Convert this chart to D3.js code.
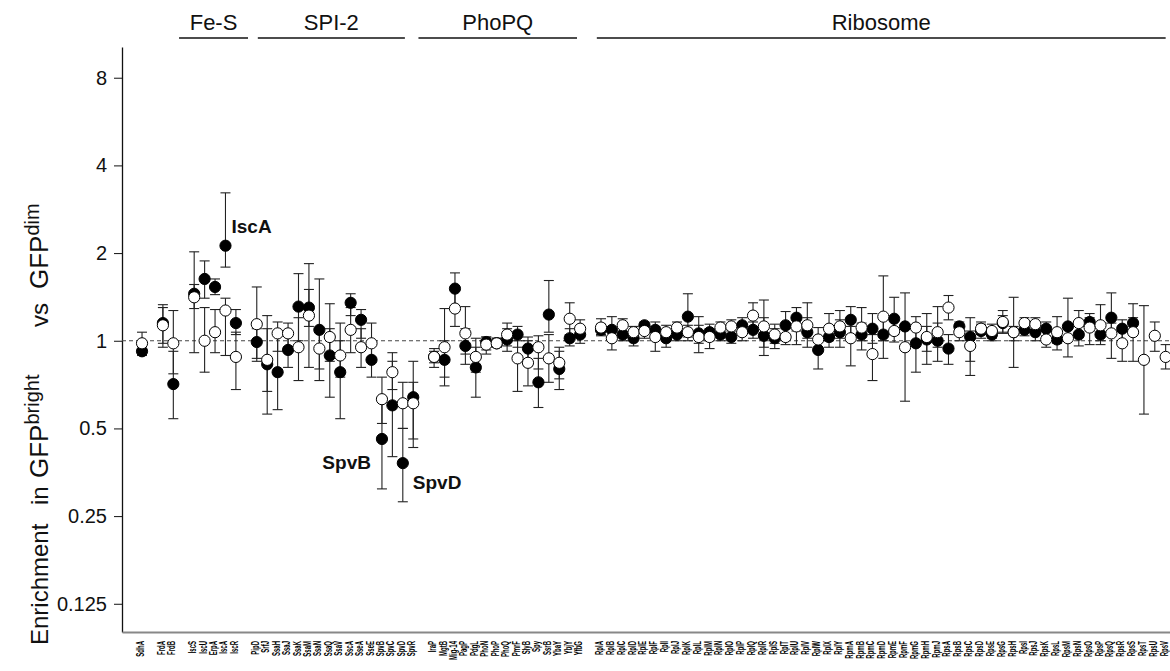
<!DOCTYPE html>
<html>
<head>
<meta charset="utf-8">
<script src="https://cdn.jsdelivr.net/npm/d3@7"></script>
<style>
  body { margin: 0; background: #fff; }
  svg { font-family: Arial, "Liberation Sans", sans-serif; }
</style>
</head>
<body>
<div id="chart"></div>
<script>
// gene blocks, left to right (one empty slot between blocks)
const sdhGenes = ['SdhA']
const frdGenes = ['FrdA', 'FrdB']
const feSGenes = ['IscS', 'IscU', 'ErpA', 'IscA', 'IscR']
const spi2Genes = ['PipD', 'SrfJ', 'SsaH', 'SsaJ', 'SsaK', 'SsaM', 'SsaN', 'SsaQ', 'SsaV', 'SscA', 'SseA', 'SseE', 'SpvB', 'SpvC', 'SpvD', 'SpvR']
const phoPQGenes = ['IraP', 'MgtB', 'Mig-14', 'PagP', 'PdgL', 'PhoN', 'PhoP', 'PhoQ', 'PmrF', 'SlyB', 'Spy', 'SsrB', 'YbaY', 'YbjY', 'YfbG']
const ribosomeGenes = ['RplA', 'RplB', 'RplC', 'RplD', 'RplE', 'RplF', 'RplI', 'RplJ', 'RplK', 'RplL', 'RplM', 'RplN', 'RplO', 'RplP', 'RplQ', 'RplR', 'RplS', 'RplT', 'RplU', 'RplV', 'RplW', 'RplX', 'RplY',
  'RpmA', 'RpmB', 'RpmC', 'RpmD', 'RpmE', 'RpmF', 'RpmG', 'RpmH', 'RpmJ',
  'RpsA', 'RpsB', 'RpsC', 'RpsD', 'RpsE', 'RpsG', 'RpsH', 'RpsI', 'RpsJ', 'RpsK', 'RpsL', 'RpsM', 'RpsN', 'RpsO', 'RpsP', 'RpsQ', 'RpsR', 'RpsS', 'RpsT', 'RpsU', 'RpsV']

// filled circles
const filledMean = [0.92, 1.15, 0.71,
  1.45, 1.63, 1.53, 2.12, 1.15,
  0.99, 0.83, 0.78, 0.93, 1.31, 1.30, 1.09, 0.89, 0.78, 1.35, 1.18, 0.86, 0.46, 0.60, 0.38, 0.64,
  0.88, 0.86, 1.51, 0.96, 0.81, 0.99, 0.98, 1.01, 1.05, 0.94, 0.72, 1.23, 0.80, 1.02, 1.05,
  1.09, 1.09, 1.05, 1.02, 1.13, 1.09, 1.02, 1.05, 1.21, 1.06, 1.07, 1.05, 1.03, 1.13, 1.09, 1.04, 1.02, 1.13, 1.20, 1.07, 0.93, 1.03, 1.07,
  1.18, 1.05, 1.10, 1.05, 1.19, 1.12, 0.98, 1.01, 1.00,
  0.94, 1.12, 1.03, 1.08, 1.05, 1.15, 1.07, 1.09, 1.07, 1.10, 1.01, 1.12, 1.05, 1.16, 1.05, 1.20, 1.10, 1.15, null, null, null]
const filledLow = [0.89, 0.98, 0.54,
  1.29, 1.40, 1.44, 1.79, 1.05,
  0.85, 0.56, 0.58, 0.81, 1.00, 1.12, 0.73, 0.64, 0.54, 1.22, 1.02, 0.75, 0.31, 0.40, 0.28, 0.46,
  0.84, 0.70, 1.30, 0.83, 0.64, 0.93, 0.95, 0.92, 0.95, 0.82, 0.59, 1.07, 0.68, 0.96, 0.98,
  1.04, 1.00, 1.00, 0.96, 1.08, 1.02, 0.95, 1.00, 1.03, 0.98, 1.00, 1.00, 0.98, 1.06, 1.02, 0.89, 0.94, 1.04, 1.08, 0.95, 0.80, 0.95, 0.95,
  1.05, 0.93, 0.98, 0.87, 1.05, 0.95, 0.78, 0.83, 0.85,
  0.83, 1.05, 0.76, 1.02, 1.00, 1.07, 1.00, 1.04, 1.00, 1.04, 0.93, 1.02, 0.96, 1.08, 0.97, 1.05, 1.00, 1.05, null, null, null]
const filledHigh = [0.96, 1.33, 0.92,
  1.56, 1.88, 1.63, 3.22, 1.28,
  1.10, 1.10, 1.05, 1.06, 1.70, 1.50, 1.63, 1.10, 1.00, 1.45, 1.28, 0.98, 0.63, 0.85, 0.50, 0.85,
  0.92, 1.00, 1.71, 1.10, 0.95, 1.03, 1.02, 1.10, 1.12, 1.03, 0.87, 1.61, 0.92, 1.10, 1.12,
  1.14, 1.21, 1.12, 1.08, 1.16, 1.16, 1.08, 1.10, 1.45, 1.13, 1.14, 1.10, 1.08, 1.20, 1.16, 1.20, 1.10, 1.26, 1.30, 1.20, 1.03, 1.12, 1.18,
  1.31, 1.15, 1.24, 1.20, 1.41, 1.46, 1.10, 1.12, 1.15,
  1.05, 1.16, 1.20, 1.14, 1.10, 1.22, 1.12, 1.14, 1.14, 1.16, 1.08, 1.40, 1.12, 1.24, 1.12, 1.46, 1.18, 1.34, null, null, null]

// open circles
const openMean = [0.98, 1.13, 0.98,
  1.41, 1.00, 1.07, 1.27, 0.88,
  1.14, 0.86, 1.06, 1.06, 0.95, 1.22, 0.94, 1.03, 0.89, 1.09, 0.95, 0.98, 0.63, 0.78, 0.61, 0.61,
  0.88, 0.95, 1.29, 1.06, 0.88, 0.97, 0.98, 1.05, 0.87, 0.84, 0.95, 0.87, 0.84, 1.19, 1.10,
  1.11, 1.02, 1.13, 1.07, 1.08, 1.03, 1.07, 1.11, 1.07, 1.03, 1.03, 1.11, 1.12, 1.07, 1.22, 1.12, 1.05, 1.03, 1.12, 1.13, 1.01, 1.10, 1.12,
  1.02, 1.11, 0.90, 1.21, 1.08, 0.95, 1.11, 1.03, 1.07,
  1.30, 1.07, 0.96, 1.10, 1.08, 1.16, 1.07, 1.15, 1.14, 1.01, 1.07, 1.02, 1.15, 1.11, 1.13, 1.06, 0.98, 1.07, 0.86, 1.04, 0.88]
const openLow = [0.93, 0.95, 0.77,
  0.91, 0.78, 0.91, 0.89, 0.68,
  0.87, 0.67, 0.92, 0.95, 0.73, 0.81, 0.80, 0.85, 0.75, 0.91, 0.81, 0.86, 0.52, 0.68, 0.50, 0.43,
  0.81, 0.75, 1.12, 0.90, 0.78, 0.90, 0.95, 0.96, 0.67, 0.70, 0.80, 0.72, 0.74, 1.05, 1.03,
  1.05, 0.93, 1.06, 1.00, 1.02, 0.92, 1.00, 1.05, 1.00, 0.91, 0.94, 1.05, 1.06, 1.00, 1.10, 0.95, 0.98, 0.97, 0.97, 1.02, 0.92, 1.00, 1.02,
  0.82, 1.00, 0.73, 1.00, 0.99, 0.62, 1.00, 0.92, 0.95,
  1.18, 1.00, 0.85, 1.05, 1.02, 1.06, 0.81, 1.08, 1.06, 0.95, 0.98, 0.88, 1.05, 0.97, 1.00, 0.87, 0.85, 0.85, 0.56, 0.92, 0.80]
const openHigh = [1.07, 1.30, 1.27,
  2.02, 1.30, 1.28, 1.40, 1.07,
  1.53, 1.22, 1.16, 1.15, 1.20, 1.84, 1.10, 1.34, 1.15, 1.30, 1.10, 1.15, 0.75, 0.91, 0.72, 0.72,
  0.94, 1.29, 1.50, 1.31, 1.02, 1.03, 1.02, 1.15, 1.00, 1.00, 1.04, 1.05, 0.95, 1.35, 1.18,
  1.19, 1.10, 1.19, 1.12, 1.14, 1.12, 1.13, 1.16, 1.13, 1.21, 1.10, 1.16, 1.18, 1.14, 1.35, 1.38, 1.14, 1.10, 1.20, 1.35, 1.11, 1.24, 1.27,
  1.12, 1.30, 1.05, 1.67, 1.20, 1.10, 1.21, 1.24, 1.31,
  1.43, 1.14, 1.08, 1.16, 1.14, 1.27, 1.41, 1.20, 1.20, 1.08, 1.21, 1.10, 1.27, 1.20, 1.33, 1.15, 1.08, 1.20, 1.32, 1.16, 0.97]

const yTicks = [0.125, 0.25, 0.5, 1, 2, 4, 8]
const yTickLabels = ['0.125', '0.25', '0.5', '1', '2', '4', '8']

// brackets on top, in slot units
const groupNames = ['Fe-S', 'SPI-2', 'PhoPQ', 'Ribosome']
const groupFrom = [3.55, 11.1, 26.5, 43.6]
const groupTo = [10.16, 25.2, 41.7, 96]

const width = 1170
const height = 671
const axisX = 122
const axisY = 632

const svg = d3.select('#chart').append('svg').attr('width', width).attr('height', height)

const blocks = [sdhGenes, frdGenes, feSGenes, spi2Genes, phoPQGenes, ribosomeGenes]
const genes = []
blocks.forEach((b, bi) => b.forEach(name => genes.push({ name: name, slot: genes.length + bi })))
genes.forEach((g, i) => {
  g.filled = filledMean[i] == null ? null : { m: filledMean[i], lo: filledLow[i], hi: filledHigh[i] }
  g.open = { m: openMean[i], lo: openLow[i], hi: openHigh[i] }
})

const x = d3.scaleLinear().domain([-1.92, 44, 96.4]).range([axisX, 601, width])
const y = d3.scaleLog().base(2).domain([0.1, 10.2]).range([axisY, 47])

// y axis
const yAxisGroup = svg.append('g').attr('class', 'yAxisGroup').attr('transform', `translate(${axisX}, 0)`)
yAxisGroup.call(d3.axisLeft(y).tickValues(yTicks).tickFormat((d, i) => yTickLabels[i]).tickSize(8).tickSizeOuter(0))
yAxisGroup.select('.domain').attr('stroke', '#111').attr('stroke-width', 1.3)
yAxisGroup.selectAll('.tick line').attr('stroke', '#111')
yAxisGroup.selectAll('.tick text')
  .attr('x', -15)
  .attr('font-family', 'Arial, "Liberation Sans", sans-serif')
  .attr('font-size', 20)
  .attr('fill', '#111')

// x axis with gene names
const xAxisGroup = svg.append('g').attr('class', 'xAxisGroup').attr('transform', `translate(0, ${axisY})`)
xAxisGroup.call(d3.axisBottom(x).tickValues(genes.map(g => g.slot)).tickFormat((d, i) => genes[i].name).tickSize(0).tickSizeOuter(0))
xAxisGroup.select('.domain').attr('stroke', '#888').attr('stroke-width', 2)
xAxisGroup.selectAll('.tick text')
  .attr('transform', 'rotate(-90) scale(0.6, 1)')
  .attr('text-anchor', 'end')
  .attr('x', -15)
  .attr('y', 0)
  .attr('dy', '0.15em')
  .attr('font-family', 'Arial, "Liberation Sans", sans-serif')
  .attr('font-weight', 'bold')
  .attr('font-size', 10)
  .attr('fill', '#000')

// reference line at 1
svg.append('line')
  .attr('x1', axisX).attr('x2', width)
  .attr('y1', y(1)).attr('y2', y(1))
  .attr('stroke', '#444').attr('stroke-width', 1)
  .attr('stroke-dasharray', '4,3')

// error bars then circles
const series = [
  { key: 'filled', fill: '#000' },
  { key: 'open', fill: '#fff' },
]
const barGroup = svg.append('g').attr('class', 'bars')
series.forEach(s => {
  const rows = genes.filter(g => g[s.key] != null)
  const g = barGroup.selectAll(`g.${s.key}`).data(rows).enter().append('g').attr('class', s.key)
  g.append('line')
    .attr('x1', d => x(d.slot)).attr('x2', d => x(d.slot))
    .attr('y1', d => y(d[s.key].lo)).attr('y2', d => y(d[s.key].hi))
  g.append('line')
    .attr('x1', d => x(d.slot) - 5).attr('x2', d => x(d.slot) + 5)
    .attr('y1', d => y(d[s.key].lo)).attr('y2', d => y(d[s.key].lo))
  g.append('line')
    .attr('x1', d => x(d.slot) - 5).attr('x2', d => x(d.slot) + 5)
    .attr('y1', d => y(d[s.key].hi)).attr('y2', d => y(d[s.key].hi))
})
barGroup.selectAll('line').attr('stroke', '#222').attr('stroke-width', 1.1)

const dotGroup = svg.append('g').attr('class', 'dots')
series.forEach(s => {
  dotGroup.selectAll(`circle.${s.key}`).data(genes.filter(g => g[s.key] != null)).enter()
    .append('circle')
    .attr('class', s.key)
    .attr('cx', d => x(d.slot))
    .attr('cy', d => y(d[s.key].m))
    .attr('r', 5.6)
    .attr('fill', s.fill)
    .attr('stroke', '#000')
    .attr('stroke-width', 1)
})

// brackets
const groupG = svg.append('g').attr('class', 'groups')
groupNames.forEach((name, i) => {
  groupG.append('line')
    .attr('x1', x(groupFrom[i])).attr('x2', x(groupTo[i]))
    .attr('y1', 38).attr('y2', 38)
    .attr('stroke', '#111').attr('stroke-width', 1.5)
  groupG.append('text')
    .attr('x', (x(groupFrom[i]) + x(groupTo[i])) / 2)
    .attr('y', 30)
    .attr('text-anchor', 'middle')
    .attr('font-size', 22)
    .attr('fill', '#111')
    .text(name)
})

// call-outs
const callouts = [
  { gene: 'IscA', dx: 6, dy: -13, anchor: 'start' },
  { gene: 'SpvB', dx: -11, dy: 30, anchor: 'end' },
  { gene: 'SpvD', dx: 10, dy: 26, anchor: 'start' },
]
callouts.forEach(c => {
  const g = genes.find(d => d.name === c.gene)
  svg.append('text')
    .attr('x', x(g.slot) + c.dx)
    .attr('y', y(g.filled.m) + c.dy)
    .attr('text-anchor', c.anchor)
    .attr('font-size', 19)
    .attr('font-weight', 'bold')
    .attr('fill', '#111')
    .text(c.gene)
})

// y title, words spread out along the axis
const title = svg.append('text')
  .attr('transform', 'translate(48, 645) rotate(-90)')
  .attr('font-size', 24)
  .attr('fill', '#111')
title.append('tspan').attr('x', 0).text('Enrichment')
title.append('tspan').attr('x', 140).text('in')
title.append('tspan').attr('x', 167).attr('font-size', 26).text('GFP')
title.append('tspan').attr('font-size', 20).attr('dy', -9).text('bright')
title.append('tspan').attr('x', 318).attr('dy', 9).text('vs')
title.append('tspan').attr('x', 356).attr('font-size', 26).text('GFP')
title.append('tspan').attr('font-size', 20).attr('dy', -9).text('dim')
</script>
</body>
</html>
